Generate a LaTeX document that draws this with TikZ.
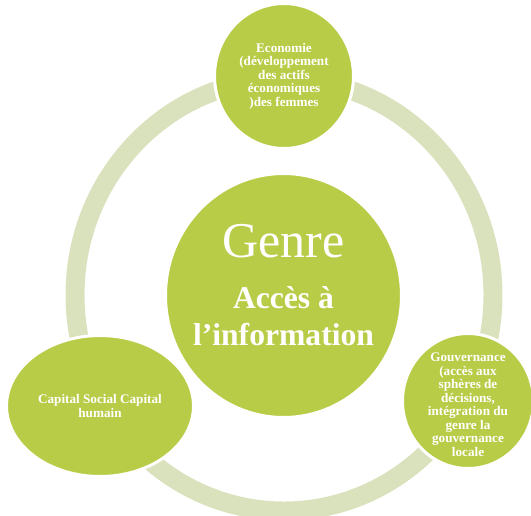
\documentclass[tikz,border=0pt]{standalone}
\usepackage{fontspec}
\setmainfont{Liberation Serif}
\usetikzlibrary{shapes.geometric}

\definecolor{vertbulle}{RGB}{185,204,72}
\definecolor{vertanneau}{RGB}{218,226,189}

\tikzset{
    bulle/.style={ellipse, fill=vertbulle, draw=white, line width=1.7pt, inner sep=0pt},
    anneau/.style={draw=vertanneau, line width=10.8pt},
    petit/.style={text=white, align=center, inner sep=0pt, font=\fontsize{7.5}{7.7}\selectfont\bfseries},
}

\begin{document}
\begin{tikzpicture}[x=0.02cm, y=-0.02cm]

    \useasboundingbox (0,0) rectangle (531,515);

    % l'anneau derriere les bulles
    \draw[anneau] (284,295) ellipse [x radius=209, y radius=216];

    \node[bulle, minimum width=2.78cm, minimum height=2.9cm] (eco) at (284,76) {};
    \node[bulle, minimum width=3.74cm, minimum height=2.82cm] (capital) at (100,406) {};
    \node[bulle, minimum width=2.62cm, minimum height=2.7cm] (gouv) at (468,401) {};
    \node[bulle, minimum width=4.72cm, minimum height=4.88cm] (centre) at (283.5,295.5) {};

    \node[petit] (ecoTxt) at (eco) {Economie\\(développement\\des actifs\\économiques\\)des femmes};
    \node[petit] (capitalTxt) at (capital) {Capital Social Capital\\humain};
    \node[petit] (gouvTxt) at ([yshift=-2pt]gouv) {Gouvernance\\(accès aux\\sphères de\\décisions,\\intégration du\\genre la\\gouvernance\\locale};

    \node[text=white, anchor=base, inner sep=0pt, font=\fontsize{28.5}{30}\selectfont] (genre) at (283.5,257) {Genre};
    \node[text=white, anchor=base, inner sep=0pt, font=\fontsize{18}{20}\selectfont\bfseries] (acces) at (283.5,308) {Accès à};
    \node[text=white, anchor=base, inner sep=0pt, font=\fontsize{18}{20}\selectfont\bfseries] (info) at (283.5,345) {l’information};

\end{tikzpicture}
\end{document}
